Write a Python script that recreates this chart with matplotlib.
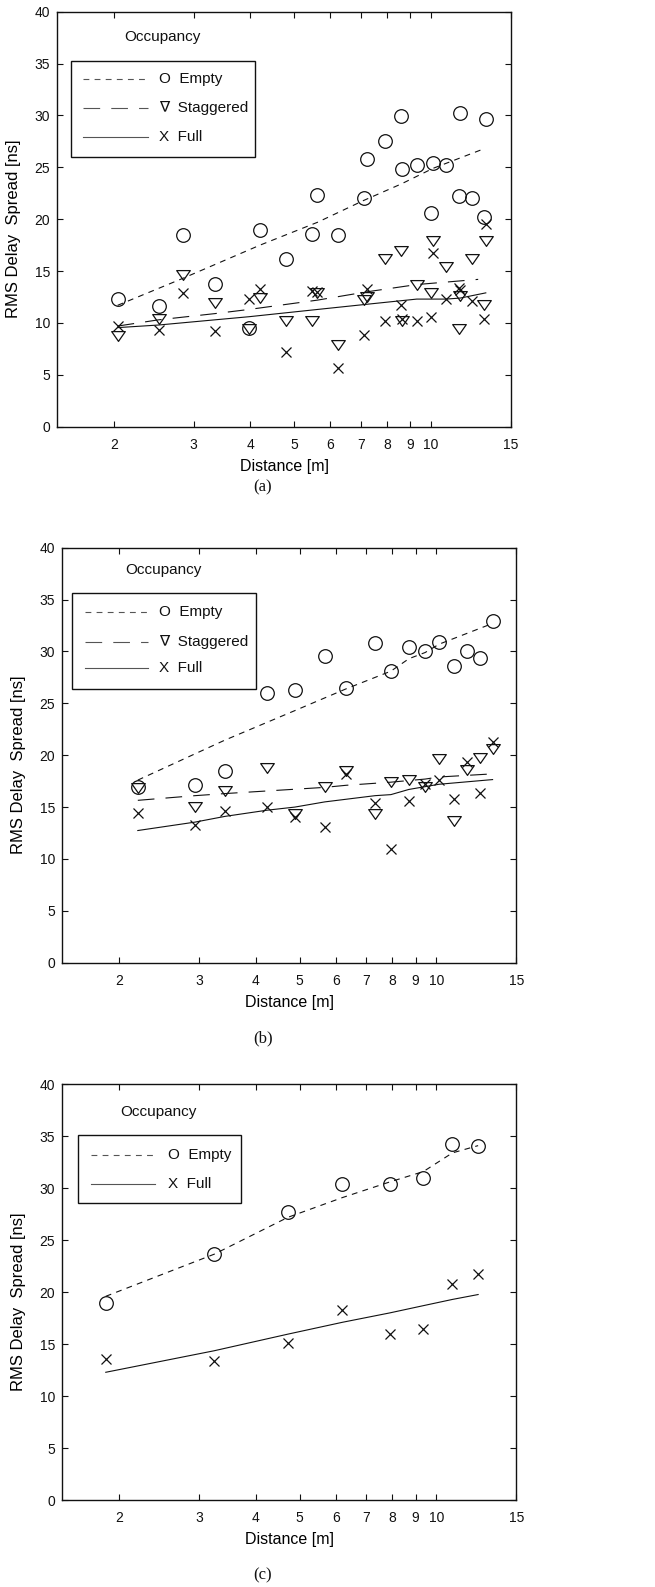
import matplotlib
matplotlib.use("Agg")
import matplotlib.pyplot as plt
from matplotlib.patches import Rectangle
from matplotlib.path import Path
import numpy as np

plt.rcParams['font.family'] = ['Liberation Sans', 'DejaVu Sans']
plt.rcParams['lines.scale_dashes'] = False

# ---------------- data: panel (a) ----------------
a_dist  = [2.04, 2.51, 2.84, 3.34, 3.97, 4.20, 4.79, 5.48, 5.62, 6.24, 7.10, 7.22,
           7.93, 8.60, 8.65, 9.30, 10.0, 10.1, 10.8, 11.5, 11.6, 12.3, 13.1, 13.2]
a_empty = [12.3, 11.6, 18.5, 13.8, 9.5, 19.0, 16.2, 18.6, 22.3, 18.5, 22.0, 25.8,
           27.5, 29.9, 24.8, 25.2, 20.6, 25.4, 25.2, 22.2, 30.2, 22.0, 20.2, 29.7]
a_stag  = [8.7, 10.4, 14.6, 11.9, 9.4, 12.4, 10.2, 10.2, 12.9, 7.9, 12.2, 12.5,
           16.2, 16.9, 10.2, 13.7, 12.9, 17.9, 15.4, 9.4, 12.6, 16.2, 11.7, 17.9]
a_full  = [9.7, 9.3, 12.9, 9.2, 12.3, 13.3, 7.2, 13.1, 13.0, 5.7, 8.8, 13.3,
           10.2, 11.7, 10.4, 10.2, 10.6, 16.7, 12.3, 13.4, 13.2, 12.1, 10.4, 19.5]
a_fit_empty_x = [2.04, 2.84, 4.2, 5.62, 7.1, 8.6, 10.1, 13.1]
a_fit_empty_y = [11.7, 14.3, 17.5, 19.7, 21.8, 23.4, 24.9, 26.8]
a_fit_stag_x = [2.04, 2.51, 3.34, 3.97, 5.62, 7.22, 9.3, 12.7]
a_fit_stag_y = [9.7, 10.3, 10.9, 11.3, 12.2, 13.0, 13.7, 14.2]
a_fit_full_x = [2.04, 2.51, 3.34, 3.97, 5.62, 7.22, 9.3, 10.8, 11.6, 13.2]
a_fit_full_y = [9.55, 9.8, 10.3, 10.6, 11.3, 11.8, 12.3, 12.3, 12.4, 12.9]

# ---------------- data: panel (b) ----------------
b_dist  = [2.20, 2.94, 3.42, 4.24, 4.88, 5.68, 6.33, 7.33, 7.94, 8.70, 9.45, 10.14,
           10.93, 11.66, 12.46, 13.30]
b_empty = [16.95, 17.1, 18.5, 25.95, 26.3, 29.6, 26.5, 30.8, 28.1, 30.4, 30.0, 30.9,
           28.6, 30.0, 29.4, 32.9]
b_stag  = [16.8, 15.0, 16.55, 18.8, 14.3, 16.9, 18.5, 14.3, 17.4, 17.6, 16.9, 19.6,
           13.65, 18.6, 19.7, 20.6]
b_full  = [14.45, 13.25, 14.6, 15.0, 14.05, 13.05, 18.2, 15.4, 10.95, 15.6, 17.2, 17.6,
           15.8, 19.35, 16.4, 21.3]
b_fit_empty_x = [2.20, 3.42, 4.88, 6.33, 7.94, 8.70, 9.45, 10.14, 13.3]
b_fit_empty_y = [17.6, 21.45, 24.3, 26.4, 28.1, 29.3, 29.9, 30.7, 32.7]
b_fit_stag_x = [2.20, 2.94, 3.42, 5.68, 6.33, 7.94, 9.45, 10.14, 13.3]
b_fit_stag_y = [15.65, 16.1, 16.3, 16.9, 17.1, 17.4, 17.7, 17.9, 18.2]
b_fit_full_x = [2.20, 2.94, 3.42, 4.24, 4.88, 5.68, 7.33, 7.94, 8.70, 10.14, 13.3]
b_fit_full_y = [12.74, 13.55, 14.1, 14.7, 15.0, 15.5, 16.1, 16.2, 16.7, 17.2, 17.65]

# ---------------- data: panel (c) ----------------
c_dist  = [1.87, 3.24, 4.71, 6.21, 7.89, 9.36, 10.85, 12.36]
c_empty = [19.0, 23.65, 27.7, 30.4, 30.4, 31.0, 34.3, 34.1]
c_full  = [13.6, 13.4, 15.15, 18.3, 15.95, 16.5, 20.75, 21.7]
c_fit_empty_x = [1.87, 3.24, 4.71, 6.21, 7.89, 9.36, 10.85, 12.36]
c_fit_empty_y = [19.6, 23.65, 27.2, 29.1, 30.6, 31.6, 33.4, 34.1]
c_fit_full_x = [1.87, 3.24, 4.71, 6.21, 7.89, 9.36, 10.85, 12.36]
c_fit_full_y = [12.29, 14.36, 15.96, 17.1, 18.0, 18.7, 19.3, 19.77]

x_ticks = [2, 3, 4, 5, 6, 7, 8, 9, 10, 15]
x_ticklabels = ['2', '3', '4', '5', '6', '7', '8', '9', '10', '15']
y_ticks = [0, 5, 10, 15, 20, 25, 30, 35, 40]

legend_title = 'Occupancy'
labels3 = ['O  Empty', '\u2207  Staggered', 'X  Full']
labels2 = ['O  Empty', 'X  Full']
captions = ['(a)', '(b)', '(c)']

# ---------------- styles ----------------
K = '#111111'
ls_empty = (0, (4.2, 3.8))
ls_stag = (0, (12, 8))
ls_full = '-'
LW = 0.8
tri = Path([(-1.0, 0.72), (1.0, 0.72), (0.0, -0.72), (-1.0, 0.72)],
           [Path.MOVETO, Path.LINETO, Path.LINETO, Path.CLOSEPOLY])

W, H = 655, 1587
fig = plt.figure(figsize=(W / 100, H / 100), dpi=100)

def px_axes(left, top, width, height):
    return fig.add_axes([left / W, 1 - (top + height) / H, width / W, height / H])

axes_px = [(57, 11.7, 454, 415), (62.3, 547.7, 454, 415), (62.3, 1084.3, 454, 415.7)]
caption_pos = [(263, 487), (263, 1038), (263, 1575)]

def style_axes(ax):
    ax.set_xscale('log')
    ax.set_xlim(1.5, 15)
    ax.set_ylim(0, 40)
    ax.xaxis.set_minor_locator(matplotlib.ticker.NullLocator())
    ax.set_xticks(x_ticks)
    ax.set_xticklabels(x_ticklabels)
    ax.set_yticks(y_ticks)
    ax.tick_params(direction='in', top=True, right=True, length=4.5, width=0.8,
                   labelsize=10, colors=K)
    ax.tick_params(axis='x', pad=8)
    ax.tick_params(axis='y', pad=5)
    for s in ax.spines.values():
        s.set_linewidth(1.0)
        s.set_color(K)
    ax.set_xlabel('Distance [m]', fontsize=11.5, labelpad=5)
    ax.set_ylabel('RMS Delay  Spread [ns]', fontsize=12, labelpad=10)
    ax.yaxis.label.set_y(0.478)

def draw_legend(ax, box, line_x0, line_x1, text_x, ys, styles, labels, title_xy):
    x0, x1, yb, yt = box
    ax.add_patch(Rectangle((x0, yb), x1 - x0, yt - yb, transform=ax.transAxes,
                           facecolor='white', edgecolor=K, lw=1.0, zorder=5))
    for y, st, lab in zip(ys, styles, labels):
        ax.plot([line_x0, line_x1], [y, y], transform=ax.transAxes, color='#555555',
                lw=LW, linestyle=st, zorder=6)
        ax.text(text_x, y, lab, transform=ax.transAxes, fontsize=11, va='center',
                ha='left', color=K, zorder=6, family=['Liberation Sans', 'DejaVu Sans'])
    ax.text(title_xy[0], title_xy[1], legend_title, transform=ax.transAxes,
            fontsize=11, va='center', ha='left', color=K)

def scatter_series(ax, x, ye, ys=None, yf=None):
    ax.plot(x, ye, linestyle='none', marker='o', ms=9.8, mfc='none', mec=K, mew=0.9)
    if ys is not None:
        ax.plot(x, ys, linestyle='none', marker=tri, ms=9.8, mfc='none', mec=K, mew=0.9)
    if yf is not None:
        ax.plot(x, yf, linestyle='none', marker='x', ms=6.5, mec=K, mew=0.9)

# ---------- panel a ----------
ax = px_axes(*axes_px[0])
style_axes(ax)
ax.plot(a_fit_empty_x, a_fit_empty_y, color=K, lw=LW, linestyle=ls_empty)
ax.plot(a_fit_stag_x, a_fit_stag_y, color=K, lw=LW, linestyle=ls_stag)
ax.plot(a_fit_full_x, a_fit_full_y, color=K, lw=LW, linestyle=ls_full)
scatter_series(ax, a_dist, a_empty, a_stag, a_full)
draw_legend(ax, (0.0308, 0.4354, 0.6506, 0.8812), 0.0573, 0.2004, 0.2247,
            [0.8371, 0.7672, 0.6988], [ls_empty, ls_stag, ls_full], labels3, (0.148, 0.94))

# ---------- panel b ----------
ax = px_axes(*axes_px[1])
style_axes(ax)
ax.plot(b_fit_empty_x, b_fit_empty_y, color=K, lw=LW, linestyle=ls_empty)
ax.plot(b_fit_stag_x, b_fit_stag_y, color=K, lw=LW, linestyle=ls_stag)
ax.plot(b_fit_full_x, b_fit_full_y, color=K, lw=LW, linestyle=ls_full)
scatter_series(ax, b_dist, b_empty, b_stag, b_full)
draw_legend(ax, (0.0207, 0.426, 0.6595, 0.8901), 0.05, 0.1894, 0.2137,
            [0.8458, 0.7735, 0.7094], [ls_empty, ls_stag, ls_full], labels3, (0.138, 0.9463))

# ---------- panel c ----------
ax = px_axes(*axes_px[2])
style_axes(ax)
ax.plot(c_fit_empty_x, c_fit_empty_y, color=K, lw=LW, linestyle=ls_empty)
ax.plot(c_fit_full_x, c_fit_full_y, color=K, lw=LW, linestyle=ls_full)
scatter_series(ax, c_dist, c_empty, None, c_full)
draw_legend(ax, (0.0353, 0.3936, 0.7133, 0.8778), 0.0632, 0.2042, 0.2328,
            [0.8296, 0.7598], [ls_empty, ls_full], labels2, (0.127, 0.934))

for cap, (cx, cy) in zip(captions, caption_pos):
    fig.text(cx / W, 1 - cy / H, cap, fontsize=12, ha='center', va='center',
             family=['Liberation Serif', 'DejaVu Serif'], color=K)

fig.savefig('out.png', dpi=100, facecolor='white')
